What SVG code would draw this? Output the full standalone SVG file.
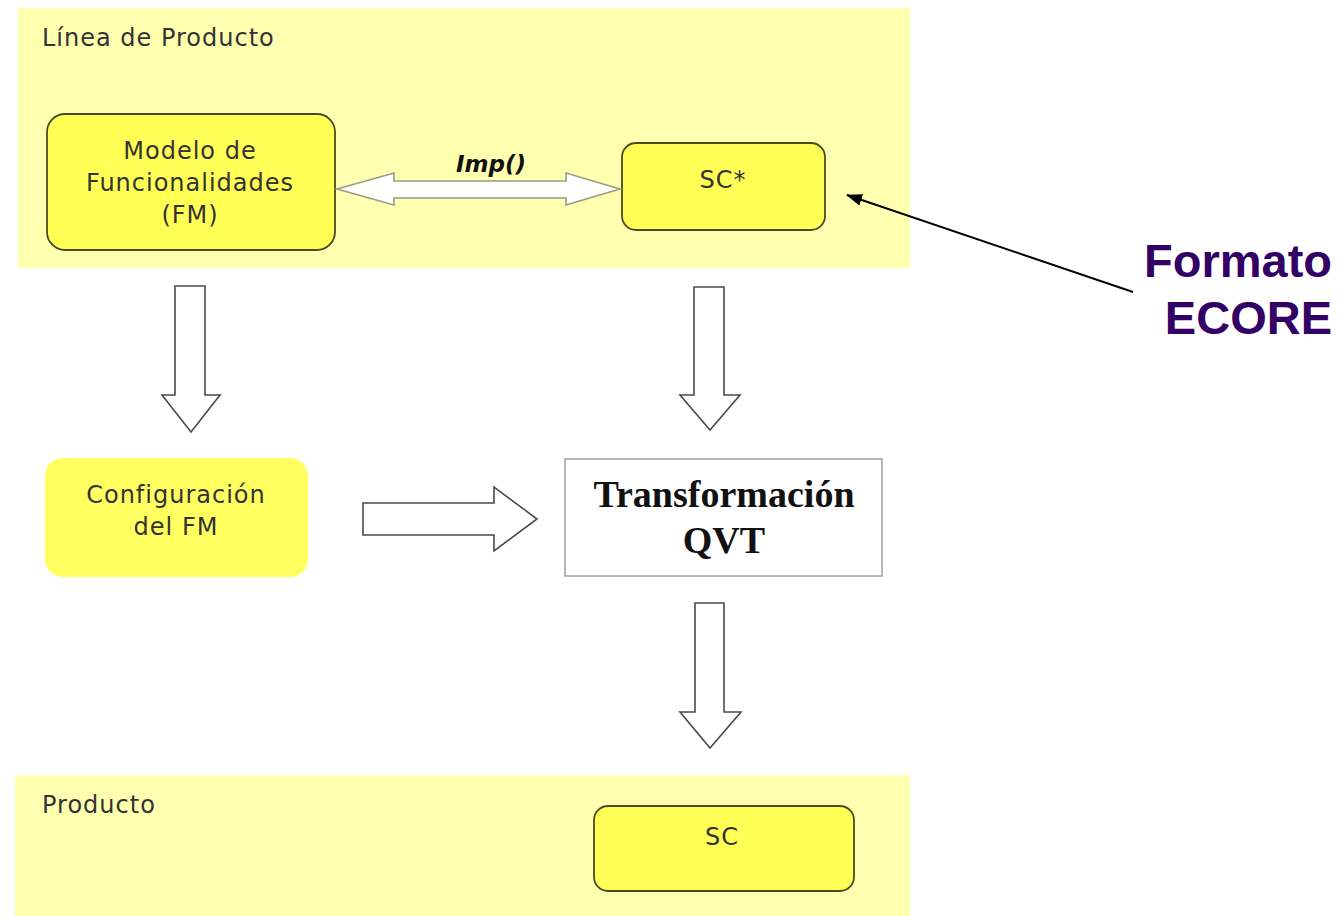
<svg xmlns="http://www.w3.org/2000/svg" width="1340" height="916" viewBox="0 0 1340 916">
  <defs>
    <style>
      .panel { fill: #FFFFB0; }
      .node { fill: #FFFF55; stroke: #4A4A20; stroke-width: 1.8; }
      .node-soft { fill: #FFFF60; }
      .lbl { font-family: "DejaVu Sans", Verdana, sans-serif; font-size: 24px; letter-spacing: 1px; fill: #333333; text-anchor: middle; }
      .title { font-family: "DejaVu Sans", Verdana, sans-serif; font-size: 24px; letter-spacing: 1px; fill: #333333; }
      .block-arrow { fill: #FFFFFF; stroke: #4A4A4A; stroke-width: 1.6; stroke-linejoin: miter; }
      .dbl-arrow { fill: #FFFFFC; stroke: #9A9A8A; stroke-width: 1.6; }
      .qvt { font-family: "Liberation Serif", "Times New Roman", serif; font-weight: bold; font-size: 38px; fill: #111; text-anchor: middle; }
      .note { font-family: "Liberation Sans", Arial, sans-serif; font-weight: bold; font-size: 47px; fill: #330066; text-anchor: end; }
    </style>
    <marker id="tip" viewBox="0 0 16 12" refX="15" refY="6" markerWidth="16" markerHeight="12" markerUnits="userSpaceOnUse" orient="auto">
      <path d="M0,0 L16,6 L0,12 Z" fill="#000"/>
    </marker>
  </defs>

  <rect width="1340" height="916" fill="#FFFFFF"/>

  <!-- Swimlane panels -->
  <g id="panel-linea">
    <rect class="panel" x="18" y="8" width="892" height="260"/>
    <text class="title" x="42" y="46">Línea de Producto</text>
  </g>
  <g id="panel-producto">
    <rect class="panel" x="15" y="775" width="895" height="141"/>
    <text class="title" x="42" y="813">Producto</text>
  </g>

  <!-- Nodes -->
  <g id="node-fm">
    <rect class="node" x="47" y="114" width="288" height="136" rx="18"/>
    <text class="lbl" x="190" y="159">Modelo de</text>
    <text class="lbl" x="190" y="191">Funcionalidades</text>
    <text class="lbl" x="190" y="223">(FM)</text>
  </g>

  <g id="node-sc-star">
    <rect class="node" x="622" y="143" width="203" height="87" rx="14"/>
    <text class="lbl" x="723" y="188">SC*</text>
  </g>

  <g id="node-config">
    <rect class="node-soft" x="45" y="458" width="263" height="119" rx="18"/>
    <text class="lbl" x="176" y="503">Configuración</text>
    <text class="lbl" x="176" y="535">del FM</text>
  </g>

  <g id="node-qvt">
    <rect x="565" y="459" width="317" height="117" fill="#FFFFFF" stroke="#A0A0A0" stroke-width="1.5"/>
    <text class="qvt" x="724" y="507">Transformación</text>
    <text class="qvt" x="724" y="553">QVT</text>
  </g>

  <g id="node-sc">
    <rect class="node" x="594" y="806" width="260" height="85" rx="14"/>
    <text class="lbl" x="722" y="845">SC</text>
  </g>

  <g id="note-ecore">
    <text class="note" x="1332" y="277">Formato</text>
    <text class="note" x="1332" y="334">ECORE</text>
  </g>

  <!-- Connectors -->
  <g id="connectors">
    <!-- Imp() two-way relation between FM and SC* -->
    <polygon class="dbl-arrow" points="337,189 394,173 394,181 566,181 566,173 620,189 566,205 566,198 394,198 394,205"/>
    <text x="491" y="172" font-family="'DejaVu Sans', Verdana, sans-serif" font-size="23" font-weight="bold" font-style="italic" fill="#111" text-anchor="middle">Imp()</text>

    <!-- FM -> Configuración -->
    <polygon class="block-arrow" points="175,286 205,286 205,395 220,395 191,432 162,395 175,395"/>
    <!-- SC* -> Transformación -->
    <polygon class="block-arrow" points="694,287 724,287 724,395 740,395 710,430 680,395 694,395"/>
    <!-- Configuración -> Transformación -->
    <polygon class="block-arrow" points="363,503 494,503 494,487 537,519 494,551 494,535 363,535"/>
    <!-- Transformación -> SC -->
    <polygon class="block-arrow" points="695,603 724,603 724,712 741,712 710,748 680,712 695,712"/>

    <!-- Note pointer -->
    <line x1="1133" y1="292" x2="847" y2="195" stroke="#000" stroke-width="2" marker-end="url(#tip)"/>
  </g>
</svg>
